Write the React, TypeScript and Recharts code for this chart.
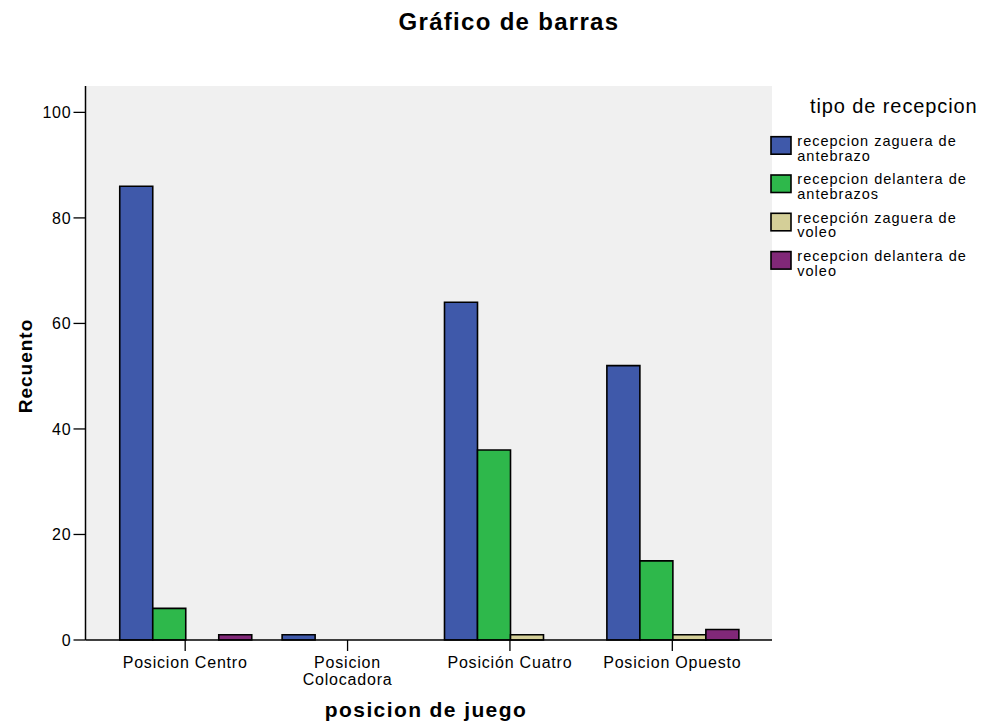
import React from "react";
import { BarChart, Bar, XAxis, YAxis, CartesianGrid } from "recharts";

const categories = ["Posicion Centro", "Posicion\nColocadora", "Posición Cuatro", "Posicion Opuesto"];
const zagueraAntebrazo = [86, 1, 64, 52];
const delanteraAntebrazos = [6, 0, 36, 15];
const zagueraVoleo = [0, 0, 1, 1];
const delanteraVoleo = [1, 0, 0, 2];
const yTicks = [0, 20, 40, 60, 80, 100];

const series = [
  { key: "za", lines: ["recepcion zaguera de", "antebrazo"], color: "#3f59aa", values: zagueraAntebrazo },
  { key: "da", lines: ["recepcion delantera de", "antebrazos"], color: "#2eb84b", values: delanteraAntebrazos },
  { key: "zv", lines: ["recepción zaguera de", "voleo"], color: "#d4cf98", values: zagueraVoleo },
  { key: "dv", lines: ["recepcion delantera de", "voleo"], color: "#812878", values: delanteraVoleo },
];

const data = categories.map((name, i) => {
  const row: Record<string, string | number> = { name };
  series.forEach((s) => (row[s.key] = s.values[i]));
  return row;
});

const FONT = '"Liberation Sans", Arial, sans-serif';
const W = 968;
const H = 707;
const PAGE_H = 715;

function CategoryTick(props: any) {
  const { x, y, payload } = props;
  const parts = String(payload.value).split("\n");
  return (
    <text x={x} y={y} textAnchor="middle" fontFamily={FONT} fontSize={16} letterSpacing={0.8} fill="#000">
      {parts.map((p, i) => (
        <tspan key={i} x={x} dy={i === 0 ? 15 : 17}>
          {p}
        </tspan>
      ))}
    </text>
  );
}

export default function App() {
  return (
    <div style={{ position: "relative", width: W, height: PAGE_H, fontFamily: FONT }}>
      <BarChart
        width={W}
        height={H}
        data={data}
        margin={{ top: 78, right: 204, bottom: 45, left: 0 }}
        barCategoryGap="9.7%"
        barGap={0}
      >
        <CartesianGrid horizontal={false} vertical={false} fill="#f0f0f0" />
        <XAxis
          dataKey="name"
          height={30}
          padding={{ left: 18.5, right: 18.5 }}
          tickSize={11}
          tickMargin={2}
          tickLine={{ stroke: "#000", strokeWidth: 1.3 }}
          axisLine={{ stroke: "#000", strokeWidth: 1.5 }}
          tick={<CategoryTick />}
          interval={0}
        />
        <XAxis
          xAxisId="top"
          dataKey="name"
          orientation="top"
          height={0}
          tick={false}
          tickLine={false}
          axisLine={{ stroke: "#000", strokeWidth: 1.5 }}
        />
        <YAxis
          width={77.5}
          domain={[0, 105]}
          ticks={yTicks}
          tickSize={12}
          tickMargin={2}
          tickLine={{ stroke: "#000", strokeWidth: 1.3 }}
          axisLine={{ stroke: "#000", strokeWidth: 1.5 }}
          tick={{ fill: "#000", fontSize: 16, fontFamily: FONT, letterSpacing: 0.8 }}
        />
        <YAxis
          yAxisId="right"
          orientation="right"
          width={0}
          domain={[0, 105]}
          tick={false}
          tickLine={false}
          axisLine={{ stroke: "#000", strokeWidth: 1.5 }}
        />
        {series.map((s) => (
          <Bar key={s.key} dataKey={s.key} fill={s.color} stroke="#000" strokeWidth={1.6} isAnimationActive={false} />
        ))}
      </BarChart>
      <svg
        width={W}
        height={PAGE_H}
        style={{ position: "absolute", left: 0, top: 0, pointerEvents: "none", overflow: "visible" }}
      >
        <text x={501} y={22} textAnchor="middle" fontFamily={FONT} fontWeight="bold" fontSize={24} letterSpacing={1.3}>
          Gráfico de barras
        </text>
        <text x={418} y={709} textAnchor="middle" fontFamily={FONT} fontWeight="bold" fontSize={21} letterSpacing={1.4}>
          posicion de juego
        </text>
        <text
          x={0}
          y={0}
          transform="translate(23.5,358) rotate(-90)"
          textAnchor="middle"
          fontFamily={FONT}
          fontWeight="bold"
          fontSize={19}
          letterSpacing={1}
        >
          Recuento
        </text>
        <text x={802} y={105} fontFamily={FONT} fontSize={20} letterSpacing={0.9}>
          tipo de recepcion
        </text>
        {series.map((s, i) => {
          const top = 128.7 + i * 38.3;
          return (
            <g key={s.key}>
              <rect x={763} y={top} width={20} height={17.5} fill={s.color} stroke="#000" strokeWidth={1.6} />
              <text fontFamily={FONT} fontSize={14.5} letterSpacing={1}>
                <tspan x={789.3} y={top + 9.3}>
                  {s.lines[0]}
                </tspan>
                <tspan x={789.3} y={top + 24}>
                  {s.lines[1]}
                </tspan>
              </text>
            </g>
          );
        })}
      </svg>
    </div>
  );
}
